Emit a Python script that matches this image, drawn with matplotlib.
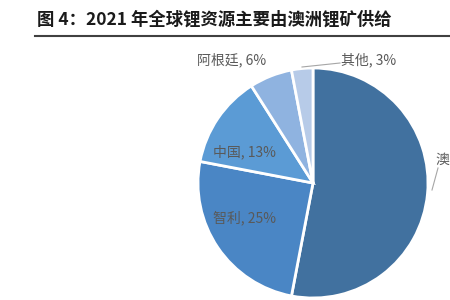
import matplotlib
matplotlib.use("Agg")
import matplotlib.pyplot as plt
import numpy as np

plt.rcParams['font.family'] = ['Noto Sans CJK SC', 'DejaVu Sans']

regions = ["澳洲", "智利", "中国", "阿根廷", "其他"]
shares = [53, 25, 13, 6, 3]
colors = ["#41719F", "#4A86C5", "#5B9BD5", "#8FB3E0", "#B7CBE8"]
title = "图 4：2021 年全球锂资源主要由澳洲锂矿供给"

fig = plt.figure(figsize=(4.5, 3), dpi=100)
ax = fig.add_axes([0, 0, 1, 1])

# pixel-like data coordinates (y up)
cx, cy, r = 313, 300 - 183, 115
wedges, _ = ax.pie(shares, colors=colors, startangle=90, counterclock=False,
                   center=(cx, cy), radius=r,
                   wedgeprops=dict(edgecolor="white", linewidth=2))
ax.set_xlim(0, 450)
ax.set_ylim(0, 300)
ax.set_aspect("equal")
ax.axis("off")

lab_color = "#595959"
fs = 10
labels = [f"{n}, {v}%" for n, v in zip(regions, shares)]
# label positions (pixels from top-left)
pos = {
    0: (436, 160, "left"),
    1: (213, 218, "left"),
    2: (213, 152, "left"),
    3: (197, 60, "left"),
    4: (341, 60, "left"),
}
for i, (x, y, ha) in pos.items():
    ax.text(x, 300 - y, labels[i], fontsize=fs, color=lab_color,
            ha=ha, va="center", clip_on=False)

# leader lines
ax.plot([302, 340], [300 - 67, 300 - 63], color="#A6A6A6", lw=0.8)
ax.plot([432, 438], [300 - 190, 300 - 168], color="#A6A6A6", lw=0.8)

# title and rule
fig.text(37 / 450, 1 - 20 / 300, title, fontsize=12.5, fontweight="bold",
         color="#1a1a1a", ha="left", va="center")
fig.add_artist(plt.Line2D([35 / 450, 1.0], [1 - 36 / 300, 1 - 36 / 300],
                          color="#404040", lw=1.5, transform=fig.transFigure))

fig.savefig("out.png", dpi=100)
